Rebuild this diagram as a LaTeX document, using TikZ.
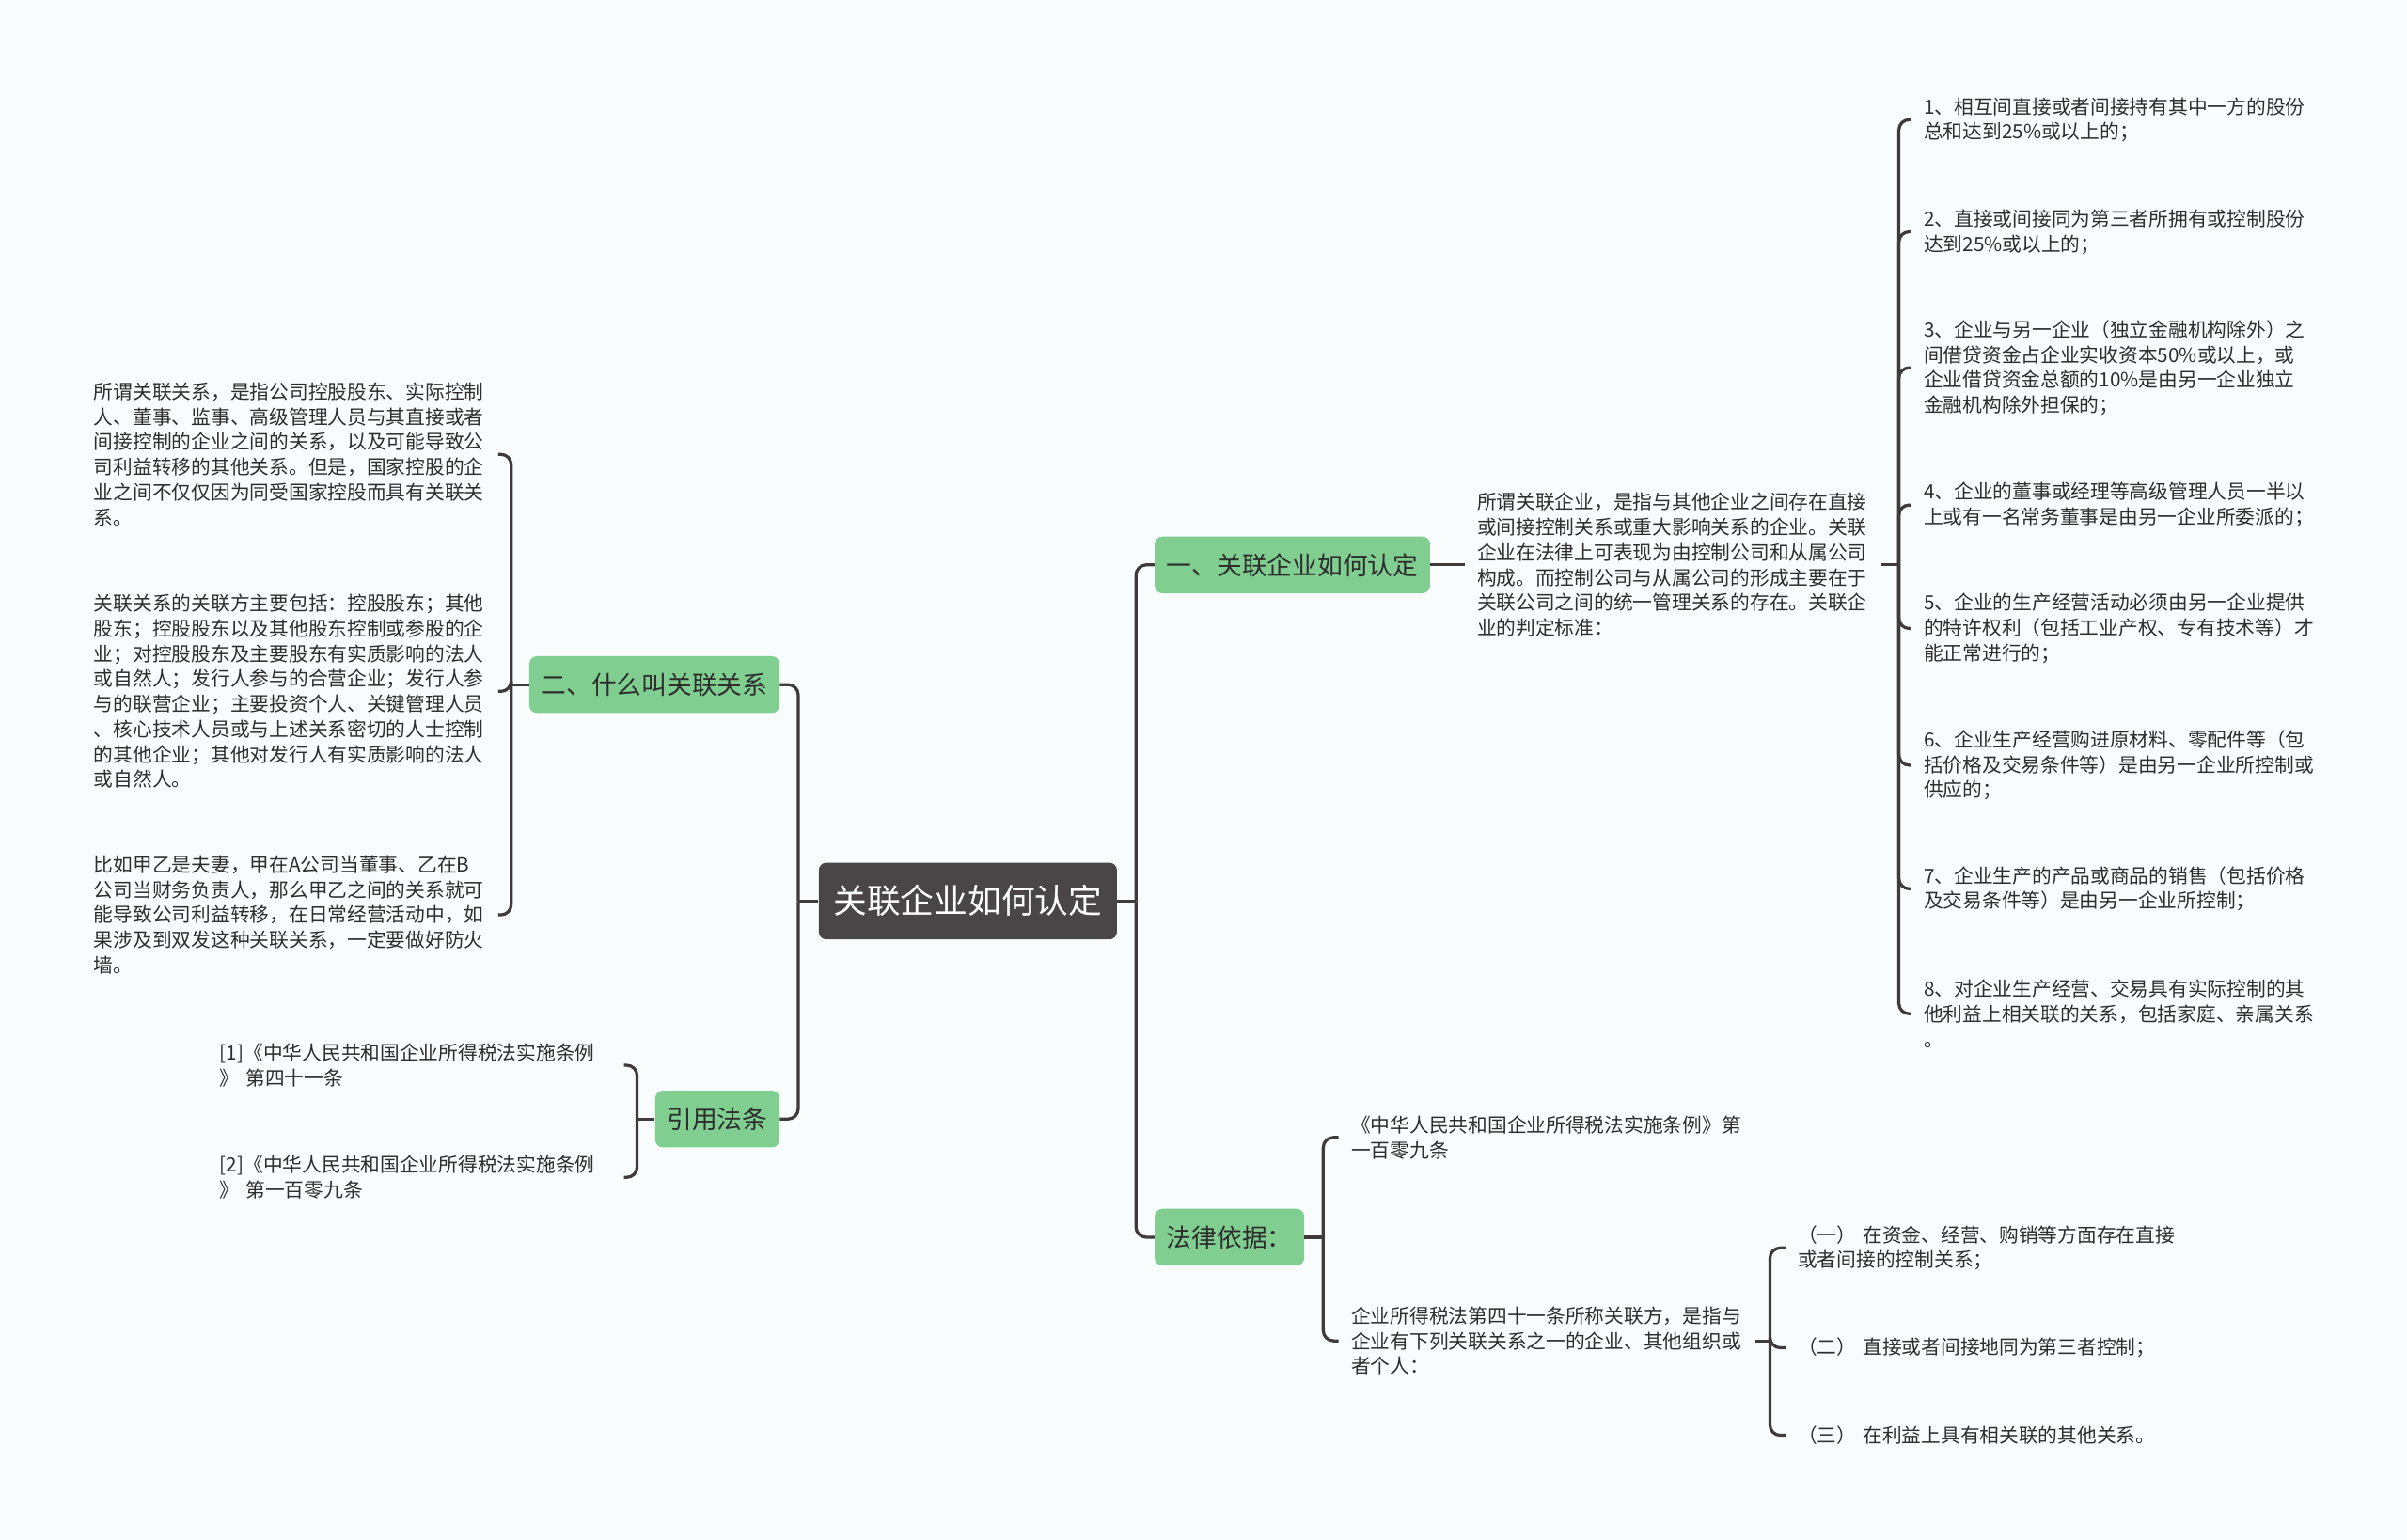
\documentclass[tikz,border=0pt]{standalone}
\usepackage{fontspec}
\setmainfont{Noto Sans CJK SC}
\definecolor{paper}{HTML}{F8FCFC}
\definecolor{leafgreen}{HTML}{80CF91}
\definecolor{rootgray}{HTML}{4A4546}
\definecolor{ink}{HTML}{2E2E2E}
\definecolor{wire}{HTML}{3F3B3B}

\begin{document}
\begin{tikzpicture}[
  x=0.3mm, y=-0.3mm,
  root/.style={fill=rootgray, rounded corners=1.5mm, text=white, font=\fontsize{18.7}{22}\selectfont, minimum height=15mm, inner xsep=2.85mm},
  topic/.style={fill=leafgreen, rounded corners=1.5mm, text=ink, font=\fontsize{14}{17}\selectfont, minimum height=11.1mm, inner xsep=2.3mm},
  note/.style={text=ink, font=\fontsize{10.84}{14}\selectfont, align=left, text width=76.5mm, inner xsep=2.4mm, inner ysep=0pt, anchor=west},
  link/.style={draw=wire, line width=1.7pt, rounded corners=2mm}
]
  \path[use as bounding box, fill=paper] (0,0) rectangle (1568,1003);

  % centre and main topics
  \node[root] (root) at (630.5,587) {关联企业如何认定};
  \node[topic, anchor=west] (n1) at (752,368) {一、关联企业如何认定};
  \node[topic, anchor=east] (n2) at (508,446) {二、什么叫关联关系};
  \node[topic, anchor=east] (n3) at (508,729) {引用法条};
  \node[topic, anchor=west] (n4) at (752,806) {法律依据：};

  % left side
  \node[note] (t1) at (53,296) {所谓关联关系，是指公司控股股东、实际控制\\人、董事、监事、高级管理人员与其直接或者\\间接控制的企业之间的关系，以及可能导致公\\司利益转移的其他关系。但是，国家控股的企\\业之间不仅仅因为同受国家控股而具有关联关\\系。};
  \node[note] (t2) at (53,450.4) {关联关系的关联方主要包括：控股股东；其他\\股东；控股股东以及其他股东控制或参股的企\\业；对控股股东及主要股东有实质影响的法人\\或自然人；发行人参与的合营企业；发行人参\\与的联营企业；主要投资个人、关键管理人员\\、核心技术人员或与上述关系密切的人士控制\\的其他企业；其他对发行人有实质影响的法人\\或自然人。};
  \node[note] (t3) at (53,596) {比如甲乙是夫妻，甲在A公司当董事、乙在B\\公司当财务负责人，那么甲乙之间的关系就可\\能导致公司利益转移，在日常经营活动中，如\\果涉及到双发这种关联关系，一定要做好防火\\墙。};
  \node[note] (r1) at (135,694) {[1]《中华人民共和国企业所得税法实施条例\\》 第四十一条};
  \node[note] (r2) at (135,767) {[2]《中华人民共和国企业所得税法实施条例\\》 第一百零九条};

  % right side
  \node[note] (n1d) at (954,368) {所谓关联企业，是指与其他企业之间存在直接\\或间接控制关系或重大影响关系的企业。关联\\企业在法律上可表现为由控制公司和从属公司\\构成。而控制公司与从属公司的形成主要在于\\关联公司之间的统一管理关系的存在。关联企\\业的判定标准：};
  \node[note] (c1) at (1245,78) {1、相互间直接或者间接持有其中一方的股份\\总和达到25\%或以上的；};
  \node[note] (c2) at (1245,151) {2、直接或间接同为第三者所拥有或控制股份\\达到25\%或以上的；};
  \node[note] (c3) at (1245,239.6) {3、企业与另一企业（独立金融机构除外）之\\间借贷资金占企业实收资本50\%或以上，或\\企业借贷资金总额的10\%是由另一企业独立\\金融机构除外担保的；};
  \node[note] (c4) at (1245,329) {4、企业的董事或经理等高级管理人员一半以\\上或有一名常务董事是由另一企业所委派的；};
  \node[note] (c5) at (1245,409.4) {5、企业的生产经营活动必须由另一企业提供\\的特许权利（包括工业产权、专有技术等）才\\能正常进行的；};
  \node[note] (c6) at (1245,498.5) {6、企业生产经营购进原材料、零配件等（包\\括价格及交易条件等）是由另一企业所控制或\\供应的；};
  \node[note] (c7) at (1245,579) {7、企业生产的产品或商品的销售（包括价格\\及交易条件等）是由另一企业所控制；};
  \node[note] (c8) at (1245,660.4) {8、对企业生产经营、交易具有实际控制的其\\他利益上相关联的关系，包括家庭、亲属关系\\。};

  \node[note] (n4a) at (872,741) {《中华人民共和国企业所得税法实施条例》第\\一百零九条};
  \node[note] (n4b) at (872,873.5) {企业所得税法第四十一条所称关联方，是指与\\企业有下列关联关系之一的企业、其他组织或\\者个人：};
  \node[note] (k1) at (1163,813) {（一） 在资金、经营、购销等方面存在直接\\或者间接的控制关系；};
  \node[note] (k2) at (1163,878) {（二） 直接或者间接地同为第三者控制；};
  \node[note] (k3) at (1163,935) {（三） 在利益上具有相关联的其他关系。};

  % junctions
  \coordinate (jl) at (520,587);
  \coordinate (jr) at (740,587);
  \coordinate (j1) at (1237,368);
  \coordinate (j2) at (333,446);
  \coordinate (j3) at (415,729);
  \coordinate (j4) at (862,806);
  \coordinate (jb) at (1153,873.5);

  % connectors
  \draw[link] (root.west) -- (jl);
  \draw[link] (jl) |- (n2.east);
  \draw[link] (jl) |- (n3.east);
  \draw[link] (root.east) -- (jr);
  \draw[link] (jr) |- (n1.west);
  \draw[link] (jr) |- (n4.west);

  \draw[link] (n2.west) -- (j2);
  \foreach \c in {t1,t2,t3}
    \draw[link] (j2) |- (\c.east);
  \draw[link] (n3.west) -- (j3);
  \foreach \c in {r1,r2}
    \draw[link] (j3) |- (\c.east);

  \draw[link] (n1.east) -- (n1d.west);
  \draw[link] (n1d.east) -- (j1);
  \foreach \i in {1,...,8}
    \draw[link] (j1) |- (c\i.west);

  \draw[link] (n4.east) -- (j4);
  \draw[link] (j4) |- (n4a.west);
  \draw[link] (j4) |- (n4b.west);
  \draw[link] (n4b.east) -- (jb);
  \foreach \i in {1,2,3}
    \draw[link] (jb) |- (k\i.west);
\end{tikzpicture}
\end{document}
